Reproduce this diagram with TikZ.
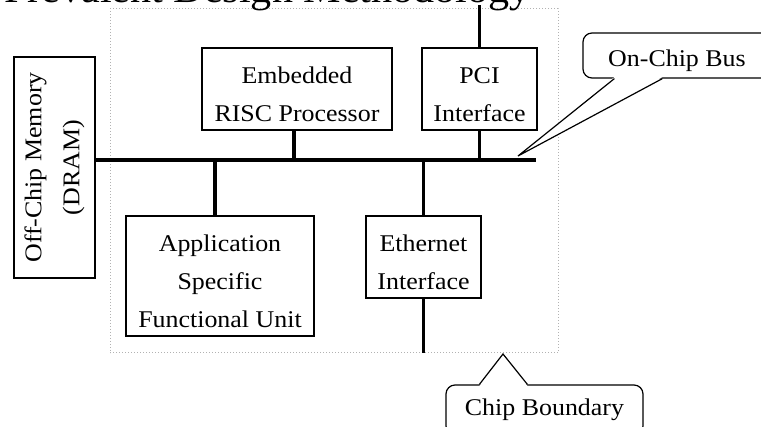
\documentclass[tikz,border=0pt]{standalone}
\usepackage{fontspec}
\newfontfamily\slidefont[FakeStretch=1.08]{Liberation Serif}
\newcommand{\upstrut}{\rule{0pt}{28pt}}
\usetikzlibrary{positioning}
\tikzset{
  unit/.style={draw, line width=1.5pt, align=center, inner sep=2pt, font=\slidefont\fontsize{24}{38}\selectfont},
  link/.style={line width=3.5pt},
  bus/.style={line width=4pt},
  boundary/.style={draw=gray!60, dotted, line width=1pt},
  callout/.style={draw, line width=1.2pt, rounded corners=9pt, fill=white, inner sep=0pt, font=\slidefont\fontsize{24}{38}\selectfont},
  pointer/.style={line width=1.2pt, line join=miter}
}

\begin{document}
\begin{tikzpicture}[x=1pt,y=-1pt]
\useasboundingbox (0,0) rectangle (761,427);

\node[boundary, minimum width=448pt, minimum height=344pt, inner sep=0pt] (chip) at (334,181) {};
\node[anchor=base west, inner sep=0pt, font=\slidefont\fontsize{39}{46}\selectfont] (title) at (4,2.5) {Prevalent Design Methodology};

\node[unit, minimum width=190pt, minimum height=82pt] (risc) at (297,89) {\upstrut Embedded\\RISC Processor};
\node[unit, minimum width=115pt, minimum height=82pt] (pci) at (479.5,89) {\upstrut PCI\\Interface};
\node[unit, minimum width=188pt, minimum height=120pt] (asfu) at (220,276) {\upstrut Application\\Specific\\Functional Unit};
\node[unit, minimum width=115pt, minimum height=82pt] (eth) at (423.5,257) {\upstrut Ethernet\\Interface};
\node[unit, rotate=90, minimum width=221pt, minimum height=81pt] (dram) at (54.5,167.5) {Off-Chip Memory\\(DRAM)};

\coordinate (busend) at (536,160);
\draw[bus] (dram.south |- busend) -- (busend);
\draw[link] ([xshift=-3pt]risc.south) -- ([xshift=-3pt]risc.south |- busend);
\draw[link] (pci.south) -- (pci.south |- busend);
\draw[link] (pci.north) -- ++(0,-42);
\draw[link] ([xshift=-5pt]asfu.north) -- ([xshift=-5pt]asfu.north |- busend);
\draw[link] (eth.north) -- (eth.north |- busend);
\draw[link] (eth.south) -- (eth.south |- chip.south);

\node[callout, minimum width=188pt, minimum height=45pt] (buslabel) at (677,55.5) {\upstrut On-Chip Bus};
\coordinate (bustip) at (518,156);
\fill[white] ([xshift=32pt,yshift=1.5pt]buslabel.south west) -- (bustip) -- ([xshift=80pt,yshift=1.5pt]buslabel.south west) -- cycle;
\draw[pointer] ([xshift=32pt]buslabel.south west) -- (bustip) -- ([xshift=80pt]buslabel.south west);

\node[callout, minimum width=197pt, minimum height=50pt] (chiplabel) at (544.5,410) {Chip Boundary};
\coordinate (chiptip) at (503,354);
\fill[white] ([xshift=34pt,yshift=-1.5pt]chiplabel.north west) -- (chiptip) -- ([xshift=82pt,yshift=-1.5pt]chiplabel.north west) -- cycle;
\draw[pointer] ([xshift=34pt]chiplabel.north west) -- (chiptip) -- ([xshift=82pt]chiplabel.north west);
\end{tikzpicture}
\end{document}
